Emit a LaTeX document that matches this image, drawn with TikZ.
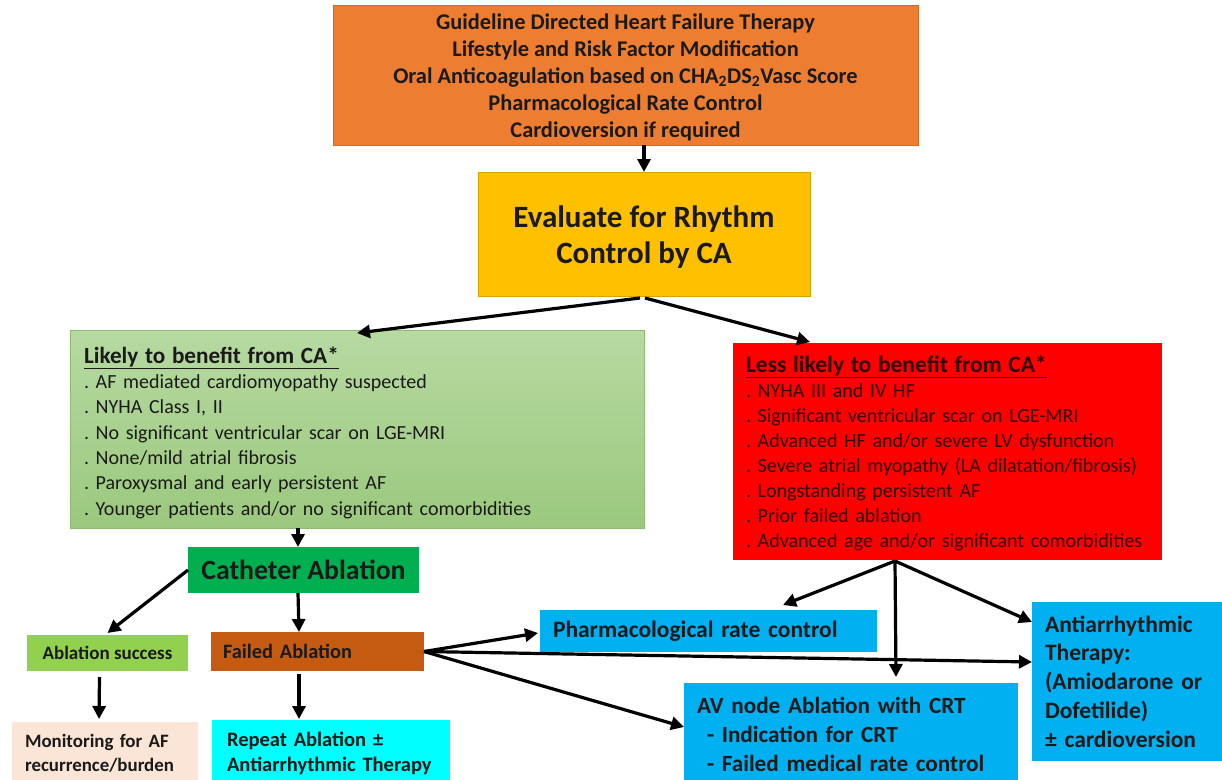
\documentclass[tikz,border=0pt]{standalone}
\usepackage{fontspec}
\setmainfont{Carlito}
\usetikzlibrary{arrows.meta,calc}
\definecolor{orangebox}{HTML}{ED7D31}
\definecolor{orangeline}{HTML}{D36A22}
\definecolor{goldbox}{HTML}{FFC000}
\definecolor{greenA}{HTML}{B6DAA1}
\definecolor{greenB}{HTML}{9BC87E}
\definecolor{greenline}{HTML}{8DBB70}
\definecolor{redbox}{HTML}{FF0000}
\definecolor{redtext}{HTML}{2E0000}
\definecolor{cathgreen}{HTML}{00B050}
\definecolor{succgreen}{HTML}{92D050}
\definecolor{failbrown}{HTML}{C55A11}
\definecolor{peach}{HTML}{FBE5D6}
\definecolor{cyanbox}{HTML}{00FFFF}
\definecolor{bluebox}{HTML}{00B0F0}
\definecolor{darktext}{HTML}{1A1A1A}
\frenchspacing
\begin{document}
\begin{tikzpicture}[x=1pt,y=-1pt,
  box/.style={anchor=north west,inner sep=0pt,outer sep=0pt,text=darktext},
  arr/.style={line width=3.2pt,-{Triangle[length=13pt,width=13pt]},black}]
\useasboundingbox[fill=white] (0,0) rectangle (1222,779);

% top box
\node[box,fill=orangebox,draw=orangeline,line width=1pt,minimum width=585pt,minimum height=140pt,align=center,
  font=\bfseries\fontsize{22.4}{27}\selectfont] (top) at (333,5)
  {\rule{0pt}{21pt}Guideline Directed Heart Failure Therapy\\
   Lifestyle and Risk Factor Modification\\
   Oral Anticoagulation based on CHA\textsubscript{2}DS\textsubscript{2}Vasc Score\\
   Pharmacological Rate Control\\
   Cardioversion if required};

% evaluate box
\node[box,fill=goldbox,draw=goldbox!85!black,line width=0.6pt,minimum width=332pt,minimum height=124pt,align=center,
  font=\bfseries\fontsize{31}{36}\selectfont] (eval) at (478,172)
  {\rule{0pt}{27pt}Evaluate for Rhythm\\Control by CA};

% green box
\node[box,top color=greenA,bottom color=greenB,draw=greenline,line width=0.6pt,minimum width=574pt,minimum height=198pt,
  text width=546pt,align=left,font=\fontsize{20}{25.3}\selectfont] (green) at (70,330)
  {\rule{0pt}{24pt}{\bfseries\fontsize{23.2}{27}\selectfont\underline{Likely to benefit from CA*}}\\
   . AF mediated cardiomyopathy suspected\\
   . NYHA Class I, II\\
   . No significant ventricular scar on LGE-MRI\\
   . None/mild atrial fibrosis\\
   . Paroxysmal and early persistent AF\\
   . Younger patients and/or no significant comorbidities};

% red box
\node[box,fill=redbox,minimum width=429pt,minimum height=217pt,
  text width=403pt,align=left,text=redtext,font=\fontsize{20}{25}\selectfont] (red) at (733,343)
  {\rule{0pt}{20pt}{\bfseries\fontsize{23.5}{25}\selectfont\underline{Less likely to benefit from CA*}}\\
   . NYHA III and IV HF\\
   . Significant ventricular scar on LGE-MRI\\
   . Advanced HF and/or severe LV dysfunction\\
   . Severe atrial myopathy (LA dilatation/fibrosis)\\
   . Longstanding persistent AF\\
   . Prior failed ablation\\
   . Advanced age and/or significant comorbidities};

% catheter ablation
\node[box,fill=cathgreen,minimum width=231pt,minimum height=46pt,
  font=\bfseries\fontsize{27.8}{30}\selectfont] (cath) at (188,547) {Catheter Ablation};

% ablation success
\node[box,fill=succgreen,minimum width=161pt,minimum height=36pt,
  font=\bfseries\fontsize{19}{22}\selectfont] (succ) at (27,635) {Ablation success};

% failed ablation
\node[box,fill=failbrown,minimum width=213pt,minimum height=39pt,text width=189pt,align=left,
  font=\bfseries\fontsize{20.4}{22}\selectfont] (fail) at (211,632) {Failed Ablation};

% monitoring
\node[box,fill=peach,minimum width=186pt,minimum height=63pt,text width=160pt,align=left,
  font=\bfseries\fontsize{18.9}{24}\selectfont] (mon) at (12,722)
  {Monitoring for AF\\recurrence/burden};

% repeat ablation
\node[box,fill=cyanbox,minimum width=238pt,minimum height=67pt,text width=208pt,align=left,
  font=\bfseries\fontsize{20.5}{25}\selectfont] (rep) at (212,720)
  {Repeat Ablation \char"00B1\\Antiarrhythmic Therapy};

% pharmacological rate control
\node[box,fill=bluebox,minimum width=337pt,minimum height=42pt,text width=311pt,align=left,
  font=\bfseries\fontsize{23.5}{26}\selectfont] (pharm) at (540,610)
  {Pharmacological rate control};

% AV node ablation
\node[box,fill=bluebox,minimum width=334pt,minimum height=103pt,text width=308pt,align=left,
  font=\bfseries\fontsize{23.2}{29}\selectfont] (av) at (684,683)
  {AV node Ablation with CRT\\
   \hspace*{10pt}- Indication for CRT\\
   \hspace*{10pt}- Failed medical rate control};

% antiarrhythmic
\node[box,fill=bluebox,minimum width=195pt,minimum height=159pt,text width=169pt,align=left,
  font=\bfseries\fontsize{23.5}{28.8}\selectfont] (anti) at (1032,602)
  {Antiarrhythmic\\Therapy:\\(Amiodarone or\\Dofetilide)\\\char"00B1{} cardioversion};

% connectors
\draw[arr] (eval.north |- top.south) -- (eval.north);
\draw[arr] ($(eval.south)+(-4,2)$) -- ($(green.north west)+(287,3)$);
\draw[arr] ($(eval.south)+(1,2)$) -- ($(red.north west)+(77,-1)$);
\draw[arr] ($(green.south west)+(228,0)$) -- ($(cath.north west)+(110,0)$);
\draw[arr] (cath.west) -- ($(succ.north)+(0,-2)$);
\draw[arr] ($(cath.south west)+(110,0)$) -- ($(fail.north west)+(88,0)$);
\draw[arr] ($(succ.south)+(-8,6)$) -- ($(mon.north west)+(87,-3)$);
\draw[arr] ($(fail.south west)+(88,3)$) -- ($(rep.north west)+(87,-1)$);
\coordinate (redfoot) at ($(red.south west)+(162,1)$);
\draw[arr] (redfoot) -- ($(pharm.north west)+(243,-5)$);
\draw[arr] (redfoot) -- ($(av.north west)+(212,-6)$);
\draw[arr] (redfoot) -- ($(anti.north west)+(0,20)$);
\coordinate (failfoot) at (fail.east);
\draw[arr] (failfoot) -- ($(pharm.west)+(-2,2)$);
\draw[arr] (failfoot) -- ($(anti.north west)+(0,60)$);
\draw[arr] (failfoot) -- ($(av.north west)+(0,44)$);
\end{tikzpicture}
\end{document}
